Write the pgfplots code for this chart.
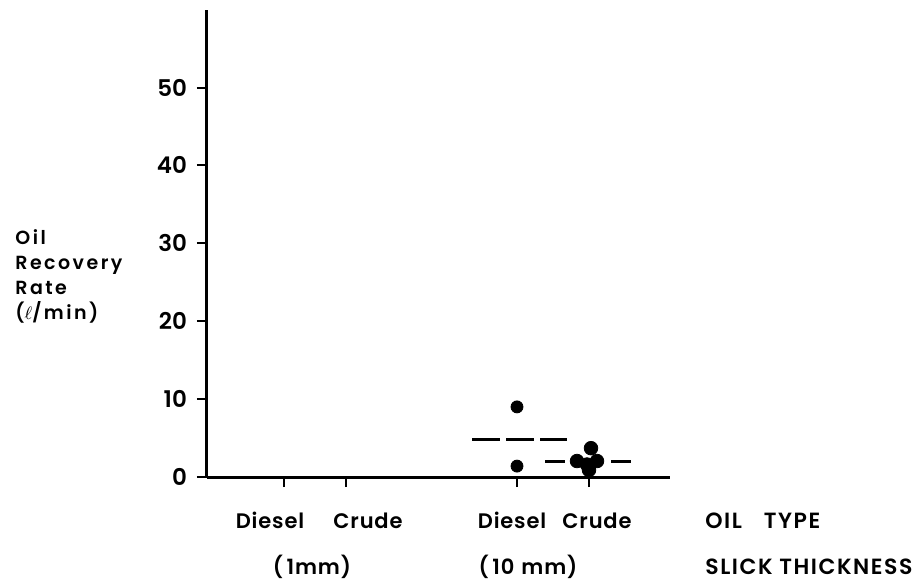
\documentclass[border=0pt]{standalone}
\usepackage{fontspec}
\setmainfont{Poppins}[UprightFont=* SemiBold]
\usepackage{pgfplots}
\pgfplotsset{compat=1.18}
\begin{document}
\begin{tikzpicture}[font=\fontsize{10.5}{12.5}\selectfont]
\begin{axis}[
  name=ax,
  scale only axis, width=231.5pt, height=233.7pt,
  xmin=0, xmax=46.3, ymin=0, ymax=60,
  axis x line=bottom, axis y line=left,
  axis line style={line width=1.5pt, -},
  xtick={7.7,13.9,31.0,38.2},
  xticklabels={},
  ytick={0,10,20,30,40,50},
  tick align=outside, major tick length=5pt,
  tick style={line width=1pt, black},
  yticklabel style={font=\fontsize{11.5}{13}\selectfont, xshift=-1.5pt},
  /pgf/number format/assume math mode=true,
  clip=false,
]
\addplot[black, line width=1.5pt, dash pattern=on 14pt off 3pt] coordinates {(26.5,4.85) (36.0,4.85)};
\addplot[black, line width=1.5pt, dash pattern=on 10pt off 6.5pt] coordinates {(33.8,2.0) (42.4,2.0)};
\addplot[only marks, mark=*, mark size=3pt, black] coordinates {(31.0,9.0) (31.0,1.4)};
\addplot[only marks, mark=*, mark size=3.4pt, black] coordinates {
  (37.0,2.05) (39.0,2.05) (38.4,3.7) (38.2,0.9) (38.0,1.6)
};
\begin{scope}[every node/.style={inner sep=0pt, anchor=base, font={\fontsize{10.5}{12.5}\selectfont\addfontfeatures{LetterSpace=4}}}]
\node at (axis cs:6.3,0) [yshift=-25.5pt] {Diesel};
\node at (axis cs:16.1,0) [yshift=-25.5pt] {Crude};
\node at (axis cs:30.5,0) [yshift=-25.5pt] {Diesel};
\node at (axis cs:39.0,0) [yshift=-25.5pt] {Crude};
\node at (axis cs:10.5,0) [yshift=-48.5pt] {(\,1mm)};
\node at (axis cs:32.1,0) [yshift=-48.5pt] {(\,10\,\,mm)};
\end{scope}
\begin{scope}[every node/.style={inner sep=0pt, anchor=base west, font={\fontsize{11}{13}\selectfont\addfontfeatures{LetterSpace=7}}}]
\node at (rel axis cs:1,0) [xshift=17.5pt, yshift=-25.5pt] {OIL\quad TYPE};
\node at (rel axis cs:1,0) [xshift=17.5pt, yshift=-48.5pt] {SLICK THICKNESS};
\end{scope}
\node[inner sep=0pt, anchor=west, align=left, font={\fontsize{9.5}{12.5}\selectfont\addfontfeatures{LetterSpace=13}}] at (axis cs:0,25.8) [xshift=-96pt] {Oil\\Recovery\\Rate\\($\ell$/min)};
\end{axis}
\path ([shift={(-103.5pt,-51.5pt)}]ax.south west) rectangle ++(460.5pt,290pt);
\end{tikzpicture}
\end{document}
